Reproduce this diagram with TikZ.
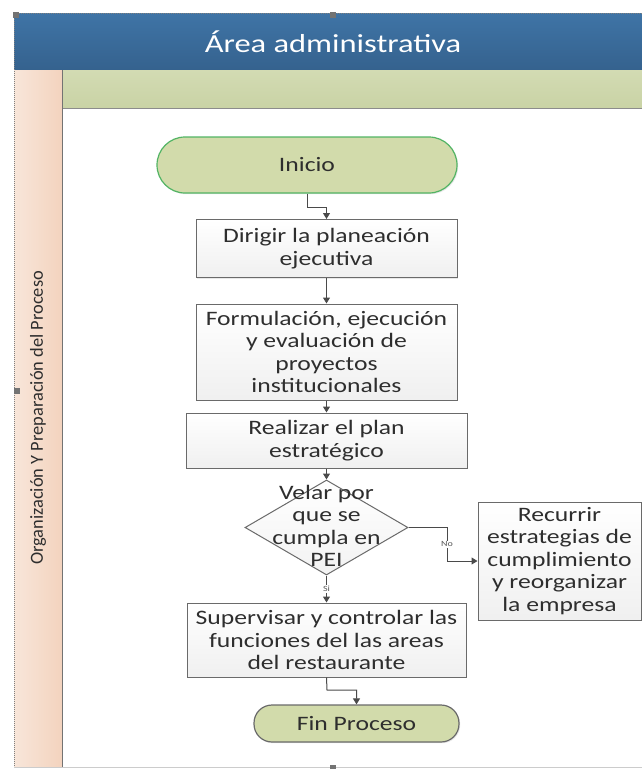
\documentclass[tikz,border=0pt]{standalone}
\usepackage{fontspec}
\setmainfont{Carlito}[FakeStretch=1.25]
\newfontfamily\lanefont{Carlito}
\usetikzlibrary{shapes.geometric,arrows.meta,shadows}

\definecolor{hdrtop}{HTML}{3F74A6}
\definecolor{hdrbot}{HTML}{35628E}
\definecolor{bandtop}{HTML}{D3DBB3}
\definecolor{bandbot}{HTML}{C9D3A5}
\definecolor{laneL}{HTML}{F8E6DA}
\definecolor{laneR}{HTML}{F3D3BE}
\definecolor{termfill}{HTML}{D2DBAB}
\definecolor{termgreen}{HTML}{52B464}
\definecolor{edge}{HTML}{6A6A6A}
\definecolor{ink}{HTML}{2E2E2E}
\definecolor{wire}{HTML}{4A4A4A}

\tikzset{
  boxtext/.style={font=\fontsize{20.5}{22.5}\selectfont, text=ink, align=center},
  procbox/.style={boxtext, draw=edge, line width=1pt, top color=white, bottom color=black!6,
    inner sep=0pt, drop shadow={opacity=0.18, shadow xshift=1.2pt, shadow yshift=-1.2pt}},
  terminal/.style={boxtext, rounded corners=18pt, inner sep=0pt, fill=termfill,
    drop shadow={opacity=0.18, shadow xshift=1.2pt, shadow yshift=-1.2pt}},
  decision/.style={diamond, draw=edge, line width=1pt, top color=white, bottom color=black!5,
    inner sep=0pt, aspect=1.7},
  flow/.style={draw=wire, line width=1pt, -{Triangle[length=6pt,width=7pt]}},
  tag/.style={font=\fontsize{8}{9}\selectfont, text=ink!80, fill=white, inner sep=0.8pt},
  handle/.style={fill=black!55, minimum size=6pt, inner sep=0pt}
}

\begin{document}
\begin{tikzpicture}[x=1pt,y=-1pt]
\useasboundingbox (0,0) rectangle (642,769);
\fill[white] (0,0) rectangle (642,769);

% pool title bar
\shade[top color=hdrtop, bottom color=hdrbot] (14,13) rectangle (642,70);
\draw[black!60, line width=1pt] (14,70) -- (642,70);
\node[font=\fontsize{26}{28}\selectfont, text=white] (pooltitle) at (333,42) {Área administrativa};

% phase band
\shade[top color=bandtop, bottom color=bandbot] (62,70) rectangle (642,108);
\draw[black!45, line width=1pt] (62,108) -- (642,108);

% lane header
\shade[left color=laneL, right color=laneR] (14,70) rectangle (62,767);
\draw[black!55, line width=1pt] (62,70) -- (62,767);
\node[rotate=90, font=\lanefont\fontsize{18.4}{20}\selectfont, text=ink] (lanetitle) at (38,418)
  {Organización Y Preparación del Proceso};

% pool frame
\draw[black!50, line width=1pt, dash pattern=on 1pt off 1pt] (642,13) -- (14,13) -- (14,767);
\draw[black!20, line width=0.8pt] (14,767) -- (642,767);

% selection handles
\node[handle] (h1) at (16,15) {};
\node[handle] (h2) at (333,15) {};
\node[handle] (h3) at (17,391) {};
\node[handle] (h4) at (333,768) {};

% flow shapes
\node[terminal, draw=termgreen, line width=1.2pt, rounded corners=28pt,
      minimum width=300pt, minimum height=56pt] (inicio) at (307,165) {Inicio};
\node[procbox, minimum width=261pt, minimum height=58pt] (b1) at (326.5,248.5)
  {Dirigir la planeación\\ejecutiva};
\node[procbox, minimum width=261pt, minimum height=96pt] (b2) at (326.5,352)
  {Formulación, ejecución\\y evaluación de\\proyectos\\institucionales};
\node[procbox, minimum width=281pt, minimum height=55pt] (b3) at (326.5,440.5)
  {Realizar el plan\\estratégico};
\node[decision, minimum width=163pt, minimum height=95pt] (dec) at (326.5,527.5) {};
\node[boxtext] (dectext) at (326.5,526) {Velar por\\que se\\cumpla en\\PEI};
\node[procbox, minimum width=163pt, minimum height=118pt] (b4) at (559.5,561)
  {Recurrir\\estrategias de\\cumplimiento\\y reorganizar\\la empresa};
\node[procbox, minimum width=279pt, minimum height=74pt] (b5) at (326.5,640)
  {Supervisar y controlar las\\funciones del las areas\\del restaurante};
\node[terminal, draw=edge, line width=1.2pt, minimum width=205pt, minimum height=37pt]
  (fin) at (356.5,723.5) {Fin Proceso};

% connectors
\coordinate (j1) at (307,207);
\coordinate (j2) at (447,527.5);
\coordinate (j3) at (327,690);
\draw[flow] (inicio.south) -- (j1) -| (b1.north);
\draw[flow] (b1.south) -- (b2.north);
\draw[flow] (b2.south) -- (b3.north);
\draw[flow] (b3.south) -- (dec.north);
\draw[flow] (dec.east) -- (j2) |- (b4.west) node[tag, pos=0.25] {No};
\draw[flow] (dec.south) -- (b5.north) node[tag, midway] {Si};
\draw[flow] (b5.south) -- (j3) -| (fin.north);
\end{tikzpicture}
\end{document}
